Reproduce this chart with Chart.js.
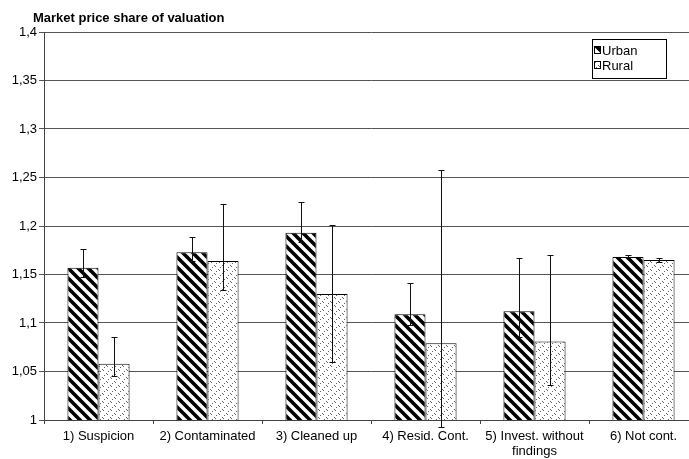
<!DOCTYPE html>
<html>
<head>
<meta charset="utf-8">
<script src="https://cdn.jsdelivr.net/npm/chart.js@4.4.1/dist/chart.umd.min.js"></script>
<style>
  html, body { margin: 0; padding: 0; background: #fff; overflow: hidden; }
  #chart { display: block; }
</style>
</head>
<body>
<canvas id="chart" width="700" height="459"></canvas>
<script>
const FONT = "'Liberation Sans', Arial, sans-serif";
const TITLE = 'Market price share of valuation';

const categories = ['1) Suspicion', '2) Contaminated', '3) Cleaned up', '4) Resid. Cont.', ['5) Invest. without', 'findings'], '6) Not cont.'];
const seriesNames = ['Urban', 'Rural'];

// bar heights
const urbanValues = [1.157, 1.173, 1.193, 1.109, 1.112, 1.168];
const ruralValues = [1.058, 1.164, 1.130, 1.079, 1.081, 1.165];
// error bar ends
const urbanHigh = [1.176, 1.189, 1.225, 1.141, 1.167, 1.170];
const urbanLow = [1.147, 1.164, 1.183, 1.098, 1.086, 1.168];
const ruralHigh = [1.086, 1.223, 1.201, 1.258, 1.170, 1.167];
const ruralLow = [1.045, 1.134, 1.060, 0.993, 1.036, 1.163];

const yTicks = [1, 1.05, 1.1, 1.15, 1.2, 1.25, 1.3, 1.35, 1.4];

// patterns
function stripePattern() {
  const c = document.createElement('canvas');
  c.width = 10; c.height = 10;
  const g = c.getContext('2d');
  g.fillStyle = '#fff';
  g.fillRect(0, 0, 10, 10);
  g.strokeStyle = '#000';
  g.lineWidth = 3.6;
  g.beginPath();
  g.moveTo(-2, -2); g.lineTo(12, 12);
  g.moveTo(-12, -2); g.lineTo(2, 12);
  g.moveTo(8, -2); g.lineTo(22, 12);
  g.stroke();
  return g.createPattern(c, 'repeat');
}

function dotPattern() {
  const c = document.createElement('canvas');
  c.width = 8; c.height = 8;
  const g = c.getContext('2d');
  g.fillStyle = '#fff';
  g.fillRect(0, 0, 8, 8);
  g.fillStyle = '#666';
  [[0, 7], [2, 5], [4, 3], [6, 1], [3, 6], [7, 2]].forEach(p => g.fillRect(p[0], p[1], 1, 1));
  return g.createPattern(c, 'repeat');
}

const urbanFill = stripePattern();
const ruralFill = dotPattern();

const errorBars = {
  id: 'errorBars',
  afterDatasetsDraw(chart) {
    const ctx = chart.ctx;
    const y = chart.scales.y;
    ctx.save();
    ctx.strokeStyle = '#111';
    ctx.lineWidth = 1;
    chart.data.datasets.forEach((ds, di) => {
      const meta = chart.getDatasetMeta(di);
      meta.data.forEach((bar, i) => {
        const x = Math.round(bar.x) + 0.5;
        const hi = Math.round(y.getPixelForValue(ds.errHigh[i])) + 0.5;
        const lo = Math.round(y.getPixelForValue(ds.errLow[i])) + 0.5;
        ctx.beginPath();
        ctx.moveTo(x, hi); ctx.lineTo(x, lo);
        ctx.moveTo(x - 3, hi); ctx.lineTo(x + 3, hi);
        ctx.moveTo(x - 3, lo); ctx.lineTo(x + 3, lo);
        ctx.stroke();
      });
    });
    ctx.restore();
  }
};

const extras = {
  id: 'extras',
  afterDraw(chart) {
    const ctx = chart.ctx;
    ctx.save();
    // title
    ctx.fillStyle = '#000';
    ctx.font = 'bold 13px ' + FONT;
    ctx.textBaseline = 'middle';
    ctx.textAlign = 'left';
    ctx.fillText(TITLE, 33, 18);
    // legend box
    ctx.fillStyle = '#fff';
    ctx.fillRect(592, 39, 74, 39);
    ctx.strokeStyle = '#000';
    ctx.lineWidth = 1;
    ctx.strokeRect(592.5, 39.5, 74, 39);
    ctx.font = '13px ' + FONT;
    const fills = [urbanFill, ruralFill];
    seriesNames.forEach((name, i) => {
      const cy = 50 + i * 15;
      ctx.fillStyle = fills[i];
      ctx.fillRect(594, cy - 3, 7, 7);
      ctx.strokeRect(594.5, cy - 3.5, 6, 7);
      ctx.fillStyle = '#000';
      ctx.fillText(name, 602, cy + 1);
    });
    ctx.restore();
  }
};

new Chart(document.getElementById('chart'), {
  type: 'bar',
  data: {
    labels: categories,
    datasets: [
      { label: seriesNames[0], data: urbanValues, errHigh: urbanHigh, errLow: urbanLow,
        backgroundColor: urbanFill, borderColor: '#000', borderWidth: 1 },
      { label: seriesNames[1], data: ruralValues, errHigh: ruralHigh, errLow: ruralLow,
        backgroundColor: ruralFill, borderColor: '#000', borderWidth: 1 }
    ]
  },
  options: {
    responsive: false,
    animation: false,
    devicePixelRatio: 1,
    layout: { padding: { top: 32, right: 2, left: 0, bottom: 0 } },
    datasets: { bar: { barPercentage: 1, categoryPercentage: 0.57 } },
    plugins: {
      legend: { display: false },
      title: { display: false },
      tooltip: { enabled: false }
    },
    scales: {
      x: {
        afterFit(s) { s.height = 39; },
        grid: { drawOnChartArea: false, drawTicks: true, tickLength: 4, offset: true, color: '#444' },
        border: { color: '#444', width: 1 },
        ticks: { color: '#000', font: { family: FONT, size: 13, lineHeight: 1.15 }, padding: 5, maxRotation: 0, autoSkip: false }
      },
      y: {
        min: 1,
        max: 1.4,
        afterFit(s) { s.width = 44; },
        afterBuildTicks(s) { s.ticks = yTicks.map(v => ({ value: v })); },
        grid: { color: '#555', lineWidth: 1, drawTicks: true, tickLength: 5 },
        border: { color: '#444', width: 1 },
        ticks: {
          color: '#000',
          font: { family: FONT, size: 13 },
          padding: 2,
          callback: v => String(v).replace('.', ',')
        }
      }
    }
  },
  plugins: [errorBars, extras]
});
</script>
</body>
</html>
